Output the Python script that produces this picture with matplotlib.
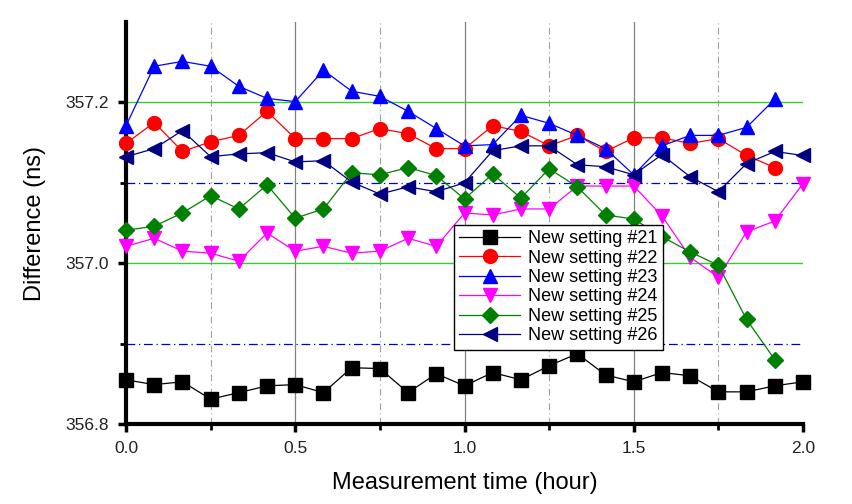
import numpy as np
import matplotlib
matplotlib.use("Agg")
import matplotlib.pyplot as plt

plt.rcParams["font.family"] = ["Liberation Sans", "DejaVu Sans"]

# ======================
# DATA
# ======================
time_step = 1.0 / 12.0  # 5-minute samples, in hours

s21 = [356.855, 356.849, 356.8525, 356.831, 356.839, 356.8475, 356.849, 356.839,
       356.870, 356.869, 356.839, 356.8625, 356.8475, 356.864, 356.855, 356.8725,
       356.8875, 356.861, 356.8525, 356.864, 356.860, 356.840, 356.840, 356.8475,
       356.8525]
s22 = [357.149, 357.175, 357.139, 357.151, 357.159, 357.189, 357.155, 357.155,
       357.155, 357.1675, 357.161, 357.1425, 357.1425, 357.171, 357.164, 357.146,
       357.159, 357.139, 357.156, 357.156, 357.149, 357.155, 357.134, 357.119]
s23 = [357.171, 357.245, 357.251, 357.245, 357.220, 357.205, 357.201, 357.240,
       357.214, 357.2075, 357.189, 357.1675, 357.146, 357.1475, 357.184, 357.174,
       357.159, 357.1425, 357.110, 357.146, 357.159, 357.159, 357.169, 357.204]
s24 = [357.021, 357.031, 357.015, 357.0125, 357.0025, 357.0375, 357.015, 357.021,
       357.0125, 357.015, 357.031, 357.021, 357.0625, 357.060, 357.0675, 357.0675,
       357.096, 357.096, 357.096, 357.059, 357.0075, 356.9825, 357.039, 357.0525,
       357.099]
s25 = [357.041, 357.046, 357.0625, 357.084, 357.0675, 357.0975, 357.056, 357.0675,
       357.1125, 357.110, 357.119, 357.109, 357.080, 357.111, 357.081, 357.1175,
       357.095, 357.060, 357.055, 357.033, 357.014, 356.9975, 356.930, 356.880]
s26 = [357.1325, 357.1425, 357.165, 357.1325, 357.136, 357.1375, 357.126, 357.1275,
       357.101, 357.086, 357.095, 357.089, 357.100, 357.140, 357.146, 357.146,
       357.1225, 357.120, 357.110, 357.135, 357.1075, 357.089, 357.124, 357.139,
       357.134]

series_labels = ["New setting #21", "New setting #22", "New setting #23",
                 "New setting #24", "New setting #25", "New setting #26"]
series_data = [s21, s22, s23, s24, s25, s26]
series_colors = ["black", "red", "blue", "magenta", "green", "navy"]
series_markers = ["s", "o", "^", "v", "D", "<"]
series_msize = [10, 10, 10, 10, 8, 10]

# ======================
# FIGURE
# ======================
fig = plt.figure(figsize=(8.53, 5.04), dpi=100)
ax = fig.add_axes([0.1477, 0.1587, 0.7937, 0.7976])

# reference lines
for xv in [0.5, 1.0, 1.5]:
    ax.axvline(xv, color="#808080", lw=0.9, zorder=1)
for xv in [0.25, 0.75, 1.25, 1.75]:
    ax.axvline(xv, color="#a0a0a0", lw=0.8, ls=(0, (6, 3, 1, 3)), zorder=1)
for yv in [357.0, 357.2]:
    ax.axhline(yv, color="#33cc33", lw=1.0, zorder=1)
for yv in [356.9, 357.1]:
    ax.axhline(yv, color="#0000cc", lw=0.9, ls=(0, (7, 3, 1, 3)), zorder=1)

for vals, lab, col, mk, ms in zip(series_data, series_labels, series_colors,
                                  series_markers, series_msize):
    t = np.arange(len(vals)) * time_step
    ax.plot(t, vals, color=col, marker=mk, markersize=ms, lw=0.9,
            label=lab, zorder=3, clip_on=False)

ax.set_xlim(0, 2.0)
ax.set_ylim(356.8, 357.3)
ax.set_xticks([0.0, 0.5, 1.0, 1.5, 2.0])
ax.set_xticks([0.25, 0.75, 1.25, 1.75], minor=True)
ax.set_yticks([356.8, 357.0, 357.2])
ax.set_yticks([356.9, 357.1], minor=True)
ax.set_xticklabels(["0.0", "0.5", "1.0", "1.5", "2.0"])
ax.set_yticklabels(["356.8", "357.0", "357.2"])

for side in ["top", "right"]:
    ax.spines[side].set_visible(False)
for side in ["left", "bottom"]:
    ax.spines[side].set_linewidth(3)

ax.tick_params(which="major", direction="out", length=6, width=2.5,
               labelsize=12.5, colors="black", labelcolor="#222222", pad=6)
ax.tick_params(which="minor", direction="out", length=4, width=2)

ax.set_xlabel("Measurement time (hour)", fontsize=17, labelpad=12)
ax.set_ylabel("Difference (ns)", fontsize=17, labelpad=14)

leg = ax.legend(loc="upper left", bbox_to_anchor=(0.484, 0.495), fontsize=13,
                frameon=True, fancybox=False, edgecolor="black", framealpha=1,
                handlelength=3.4, labelspacing=0.13, borderpad=0.3,
                handletextpad=0.4, borderaxespad=0.0)
leg.get_frame().set_linewidth(1.0)
leg.set_zorder(5)

fig.savefig("out.png", dpi=100)
